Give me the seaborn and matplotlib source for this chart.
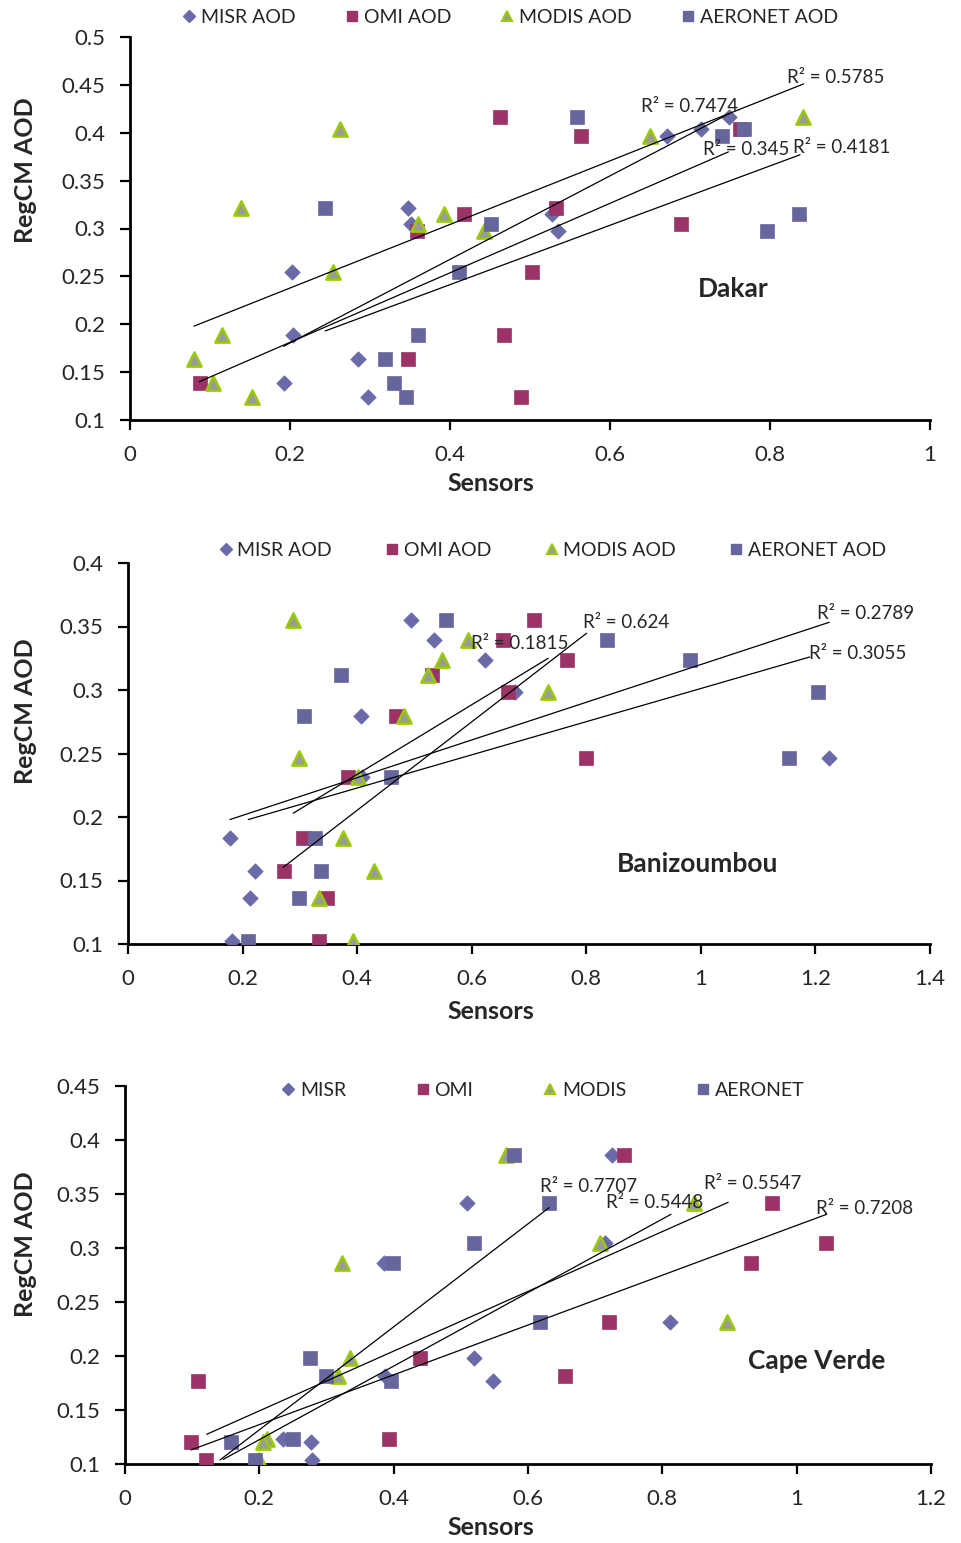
import numpy as np
import pandas as pd
import matplotlib
matplotlib.use("Agg")
import matplotlib.pyplot as plt
from matplotlib.lines import Line2D
from matplotlib.ticker import FuncFormatter
import seaborn as sns

# ---------------- data: Dakar ----------------
dakar_misr_x = [0.203, 0.204, 0.192, 0.285, 0.297, 0.348, 0.351, 0.535, 0.528, 0.671, 0.714, 0.749]
dakar_misr_y = [0.255, 0.189, 0.139, 0.164, 0.124, 0.321, 0.305, 0.297, 0.315, 0.397, 0.404, 0.416]
dakar_omi_x = [0.0875, 0.348, 0.359, 0.417, 0.462, 0.468, 0.489, 0.5025, 0.533, 0.564, 0.689, 0.7625]
dakar_omi_y = [0.139, 0.164, 0.297, 0.315, 0.416, 0.189, 0.124, 0.255, 0.321, 0.397, 0.305, 0.404]
dakar_modis_x = [0.0796, 0.104, 0.115, 0.139, 0.152, 0.2537, 0.262, 0.36, 0.393, 0.442, 0.65, 0.841]
dakar_modis_y = [0.164, 0.139, 0.189, 0.321, 0.124, 0.255, 0.404, 0.305, 0.315, 0.297, 0.397, 0.416]
dakar_aeronet_x = [0.244, 0.319, 0.3296, 0.345, 0.36, 0.4117, 0.451, 0.559, 0.7396, 0.7675, 0.7958, 0.8367]
dakar_aeronet_y = [0.321, 0.164, 0.139, 0.124, 0.189, 0.255, 0.305, 0.416, 0.397, 0.404, 0.297, 0.315]
# trend lines (x0, y0, x1, y1) as drawn in the reference, and their R² labels
dakar_trend = {
    "MISR": (0.192, 0.177, 0.749, 0.420),
    "OMI": (0.0867, 0.140, 0.748, 0.380),
    "MODIS": (0.080, 0.198, 0.842, 0.451),
    "AERONET": (0.244, 0.193, 0.8375, 0.377),
}
dakar_r2 = {"MISR": "R² = 0.7474", "OMI": "R² = 0.345", "MODIS": "R² = 0.5785", "AERONET": "R² = 0.4181"}

# ---------------- data: Banizoumbou ----------------
bani_misr_x = [0.178, 0.221, 0.2135, 0.1815, 0.406, 0.494, 0.535, 0.623, 0.675, 0.408, 1.2234]
bani_misr_y = [0.1835, 0.1575, 0.136, 0.1024, 0.2795, 0.355, 0.339, 0.324, 0.2987, 0.2317, 0.2462]
bani_omi_x = [0.305, 0.2717, 0.348, 0.334, 0.3834, 0.467, 0.5305, 0.655, 0.6626, 0.709, 0.766, 0.799]
bani_omi_y = [0.1835, 0.1575, 0.136, 0.1024, 0.2317, 0.2795, 0.312, 0.339, 0.2987, 0.355, 0.324, 0.2462]
bani_modis_x = [0.288, 0.298, 0.376, 0.429, 0.333, 0.392, 0.4014, 0.4817, 0.524, 0.549, 0.593, 0.7336]
bani_modis_y = [0.355, 0.2462, 0.1835, 0.1575, 0.136, 0.1024, 0.2317, 0.2795, 0.312, 0.324, 0.339, 0.2987]
bani_aeronet_x = [0.555, 0.3717, 0.3066, 0.4585, 0.3264, 0.3363, 0.299, 0.21, 0.837, 0.981, 1.2047, 1.154]
bani_aeronet_y = [0.355, 0.312, 0.2795, 0.2317, 0.1835, 0.1575, 0.136, 0.1024, 0.339, 0.324, 0.2987, 0.2462]
bani_trend = {
    "MISR": (0.178, 0.198, 1.224, 0.3533),
    "OMI": (0.271, 0.1604, 0.8005, 0.3447),
    "MODIS": (0.2885, 0.203, 0.7336, 0.325),
    "AERONET": (0.21, 0.198, 1.19, 0.326),
}
bani_r2 = {"MISR": "R² = 0.2789", "OMI": "R² = 0.624", "MODIS": "R² = 0.1815", "AERONET": "R² = 0.3055"}

# ---------------- data: Cape Verde ----------------
cv_misr_x = [0.5087, 0.3856, 0.5196, 0.5484, 0.387, 0.277, 0.279, 0.2357, 0.7245, 0.7146, 0.8114]
cv_misr_y = [0.342, 0.2858, 0.1984, 0.1769, 0.1818, 0.1207, 0.1037, 0.123, 0.386, 0.3044, 0.2318]
cv_omi_x = [0.109, 0.0978, 0.12, 0.439, 0.393, 0.7434, 0.9637, 1.043, 0.932, 0.7206, 0.6556]
cv_omi_y = [0.1769, 0.1207, 0.1037, 0.1984, 0.123, 0.386, 0.342, 0.3044, 0.2858, 0.2318, 0.1818]
cv_modis_x = [0.3235, 0.335, 0.3176, 0.211, 0.205, 0.5667, 0.8476, 0.7072, 0.897, 0.200]
cv_modis_y = [0.2858, 0.1984, 0.1818, 0.123, 0.1207, 0.386, 0.342, 0.3044, 0.2318, 0.1037]
cv_aeronet_x = [0.5796, 0.5196, 0.3985, 0.2754, 0.2988, 0.396, 0.1573, 0.1935, 0.2506, 0.6313, 0.6178]
cv_aeronet_y = [0.386, 0.3044, 0.2858, 0.1984, 0.1818, 0.1769, 0.1207, 0.1037, 0.123, 0.342, 0.2318]
cv_trend = {
    "MISR": (0.1464, 0.1043, 0.8129, 0.3312),
    "OMI": (0.0983, 0.113, 1.0446, 0.3312),
    "MODIS": (0.1216, 0.1275, 0.898, 0.3423),
    "AERONET": (0.1414, 0.1037, 0.6313, 0.3373),
}
cv_r2 = {"MISR": "R² = 0.5448", "OMI": "R² = 0.7208", "MODIS": "R² = 0.5547", "AERONET": "R² = 0.7707"}

legend_labels_aod = ["MISR AOD", "OMI AOD", "MODIS AOD", "AERONET AOD"]
legend_labels_plain = ["MISR", "OMI", "MODIS", "AERONET"]

# ---------------- style ----------------
sns.set_theme(style="white")
plt.rcParams["font.family"] = ["Lato", "DejaVu Sans"]

C_MISR = "#6A6AA8"
C_OMI = "#9C3366"
C_MODIS_FILL = "#9A9A9A"
C_MODIS_EDGE = "#99CC00"
C_AERONET = "#66669C"

STY = {
    "MISR": dict(marker="D", s=62, color=C_MISR, edgecolor=C_MISR, linewidth=0.5),
    "OMI": dict(marker="s", s=115, color=C_OMI, edgecolor=C_OMI, linewidth=0.5),
    "MODIS": dict(marker="^", s=105, color=C_MODIS_FILL, edgecolor=C_MODIS_EDGE, linewidth=1.8),
    "AERONET": dict(marker="s", s=115, color=C_AERONET, edgecolor=C_AERONET, linewidth=0.5),
}

fig = plt.figure(figsize=(9.62, 15.43), dpi=100)
W, H = 962.0, 1543.0


def make_ax(l, r, t, b):
    return fig.add_axes([l / W, 1 - b / H, (r - l) / W, (b - t) / H])


def draw_panel(ax, series, trends, r2, r2pos, xlim, ylim, xticks, yticks,
               title, title_pos, leg_labels, leg_pos, colsp, ylab_pos, xlab_pos):
    for name in ["MISR", "OMI", "MODIS", "AERONET"]:
        xs, ys = series[name]
        df = pd.DataFrame({"Sensors": xs, "RegCM AOD": ys})
        sns.scatterplot(data=df, x="Sensors", y="RegCM AOD", ax=ax, legend=False,
                        zorder=3, **STY[name])
    for name in ["MISR", "OMI", "MODIS", "AERONET"]:
        x0, y0, x1, y1 = trends[name]
        ax.plot([x0, x1], [y0, y1], color="black", lw=0.9, zorder=5)
        px, py = r2pos[name]
        ax.text(px, py, r2[name], fontsize=13.5, ha="center", va="center", zorder=6)
    ax.set_xlim(*xlim)
    ax.set_ylim(*ylim)
    ax.set_xticks(xticks)
    ax.set_yticks(yticks)
    fmt = FuncFormatter(lambda v, p: ("%g" % round(v, 4)))
    ax.xaxis.set_major_formatter(fmt)
    ax.yaxis.set_major_formatter(fmt)
    for sp in ["top", "right"]:
        ax.spines[sp].set_visible(False)
    for sp in ["left", "bottom"]:
        ax.spines[sp].set_linewidth(2.0)
        ax.spines[sp].set_color("black")
    ax.tick_params(axis="both", direction="out", length=7, width=1.6, color="black",
                   labelsize=16, pad=11, left=True, bottom=True)
    ax.set_xlabel("Sensors", fontsize=18, fontweight="bold")
    ax.set_ylabel("RegCM AOD", fontsize=18, fontweight="bold")
    ax.yaxis.label.set_va("center")
    ax.xaxis.label.set_va("center")
    ax.yaxis.set_label_coords(*ylab_pos)
    ax.xaxis.set_label_coords(*xlab_pos)
    ax.text(title_pos[0], title_pos[1], title, fontsize=19, fontweight="bold",
            ha="center", va="center")
    handles = [
        Line2D([], [], ls="", marker="D", markersize=6, color=C_MISR),
        Line2D([], [], ls="", marker="s", markersize=7.5, color=C_OMI),
        Line2D([], [], ls="", marker="^", markersize=7.5, markerfacecolor=C_MODIS_FILL,
               markeredgecolor=C_MODIS_EDGE, markeredgewidth=1.5),
        Line2D([], [], ls="", marker="s", markersize=7.5, color=C_AERONET),
    ]
    ax.legend(handles, leg_labels, loc="center", bbox_to_anchor=leg_pos, ncol=4,
              frameon=False, fontsize=14, handlelength=0.6, handletextpad=0.3,
              columnspacing=colsp, borderaxespad=0, borderpad=0)


# Panel 1: Dakar
ax1 = make_ax(130, 930, 37, 420)
draw_panel(
    ax1,
    {"MISR": (dakar_misr_x, dakar_misr_y), "OMI": (dakar_omi_x, dakar_omi_y),
     "MODIS": (dakar_modis_x, dakar_modis_y), "AERONET": (dakar_aeronet_x, dakar_aeronet_y)},
    dakar_trend, dakar_r2,
    {"MISR": (0.700, 0.427), "OMI": (0.770, 0.382), "MODIS": (0.8825, 0.458), "AERONET": (0.889, 0.385)},
    (0, 1), (0.1, 0.5), np.arange(0, 1.01, 0.2), np.arange(0.1, 0.501, 0.05),
    "Dakar", (0.754, 0.237), legend_labels_aod, (0.476, 1.052), 2.6,
    (-0.131, 0.653), (0.451, -0.167),
)

# Panel 2: Banizoumbou
ax2 = make_ax(128, 930, 563, 944)
draw_panel(
    ax2,
    {"MISR": (bani_misr_x, bani_misr_y), "OMI": (bani_omi_x, bani_omi_y),
     "MODIS": (bani_modis_x, bani_modis_y), "AERONET": (bani_aeronet_x, bani_aeronet_y)},
    bani_trend, bani_r2,
    {"MISR": (1.288, 0.360), "OMI": (0.869, 0.353), "MODIS": (0.684, 0.337), "AERONET": (1.274, 0.329)},
    (0, 1.4), (0.1, 0.4), np.arange(0, 1.401, 0.2), np.arange(0.1, 0.401, 0.05),
    "Banizoumbou", (0.995, 0.163), legend_labels_aod, (0.53, 1.034), 2.8,
    (-0.128, 0.61), (0.4526, -0.176),
)

# Panel 3: Cape Verde
ax3 = make_ax(125, 931, 1086, 1464)
draw_panel(
    ax3,
    {"MISR": (cv_misr_x, cv_misr_y), "OMI": (cv_omi_x, cv_omi_y),
     "MODIS": (cv_modis_x, cv_modis_y), "AERONET": (cv_aeronet_x, cv_aeronet_y)},
    cv_trend, cv_r2,
    {"MISR": (0.789, 0.3417), "OMI": (1.1017, 0.337), "MODIS": (0.935, 0.3593), "AERONET": (0.690, 0.357)},
    (0, 1.2), (0.1, 0.45), np.arange(0, 1.201, 0.2), np.arange(0.1, 0.451, 0.05),
    "Cape Verde", (1.030, 0.1954), legend_labels_plain, (0.519, 0.989), 3.65,
    (-0.124, 0.582), (0.454, -0.1667),
)

fig.savefig("out.png", dpi=100, facecolor="white")
